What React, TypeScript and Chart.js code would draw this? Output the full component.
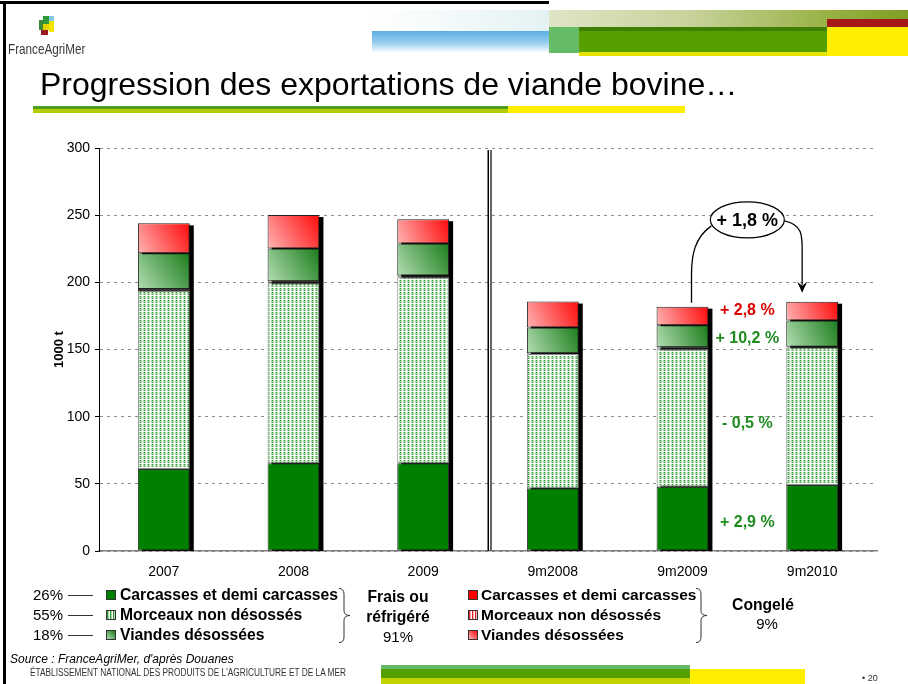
import React, { useEffect, useRef } from "react";
import { Chart, registerables } from "chart.js";

Chart.register(...registerables);

const FONT = '"Liberation Sans", Arial, Helvetica, sans-serif';

// ---------------- data ----------------
const categories = ["2007", "2008", "2009", "9m2008", "9m2009", "9m2010"];
const carcassesFrais = [61, 65.3, 65.3, 46.7, 47.9, 49.1];
const morceauxFrais = [132.6, 134, 138.5, 100, 102.3, 102.3];
const carcassesCongele = [0.6, 0.6, 0.5, 0.3, 0.6, 0.3];
const morceauxCongele = [0.9, 0.9, 0.7, 0.3, 0.9, 0.3];
const viandesFrais = [26.5, 24.3, 24, 19, 16.3, 19.6];
const viandesCongele = [22.3, 25, 18, 19.4, 13.9, 14];
const yMin = 0;
const yMax = 300;
const yStep = 50;
const yTitle = "1000 t";

const evolutionLabels = ["+ 2,8 %", "+ 10,2 %", "- 0,5 %", "+ 2,9 %"];
const evolutionColors = ["#dd0000", "#1e8c1e", "#1e8c1e", "#1e8c1e"];
const evolutionLevels = [179, 158, 94.5, 21.5];
const totalEvolution = "+ 1,8 %";
const totalEvolutionLevel = 246.5;

const legendFrais = ["Carcasses et demi carcasses", "Morceaux non désossés", "Viandes désossées"];
const legendFraisShares = ["26%", "55%", "18%"];
const legendCongele = ["Carcasses et demi carcasses", "Morceaux non désossés", "Viandes désossées"];

const seriesStack = [carcassesFrais, morceauxFrais, carcassesCongele, morceauxCongele, viandesFrais, viandesCongele];

function stackBase(ds: number, i: number) {
  let s = 0;
  for (let k = 0; k < ds; k++) s += seriesStack[k][i];
  return s;
}
function stackTotal(i: number) {
  return stackBase(seriesStack.length, i);
}

function makeTile(dark: string, light: string) {
  const c = document.createElement("canvas");
  c.width = 4;
  c.height = 4;
  const g = c.getContext("2d")!;
  g.fillStyle = "#ffffff";
  g.fillRect(0, 0, 4, 4);
  g.fillStyle = light;
  g.fillRect(0, 0, 2, 3);
  g.fillRect(3, 0, 1, 3);
  g.fillStyle = dark;
  g.fillRect(0, 0, 1, 1);
  g.fillRect(0, 2, 1, 1);
  return c;
}

function gradFor(ctx: any, ds: number, light: string, dark: string) {
  const chart = ctx.chart;
  const i = ctx.dataIndex;
  const xs = chart.scales && chart.scales.x;
  const ys = chart.scales && chart.scales.y;
  if (i === undefined || i === null || !xs || !ys || !chart.chartArea) return dark;
  const cx = xs.getPixelForValue(i);
  const w = (xs.width / categories.length) * 0.4;
  const b = stackBase(ds, i);
  const t = b + seriesStack[ds][i];
  const y0 = ys.getPixelForValue(b);
  const y1 = ys.getPixelForValue(t);
  const g = chart.ctx.createLinearGradient(cx - w / 2, y0, cx + w / 2, y1);
  g.addColorStop(0, light);
  g.addColorStop(1, dark);
  return g;
}

const shadowPlugin = {
  id: "barShadow",
  beforeDatasetsDraw(chart: any) {
    const ctx = chart.ctx;
    const ys = chart.scales.y;
    const xs = chart.scales.x;
    const w = (xs.width / categories.length) * 0.4;
    const y0 = ys.getPixelForValue(0);
    ctx.save();
    ctx.fillStyle = "#000";
    categories.forEach((_, i) => {
      const cx = xs.getPixelForValue(i);
      const top = ys.getPixelForValue(stackTotal(i));
      ctx.fillRect(cx - w / 2 + 4, top + 2, w, y0 - top - 2);
    });
    // double separator line
    const sx = xs.getPixelForValue(2.5);
    ctx.fillStyle = "#000";
    ctx.fillRect(sx - 0.5, chart.chartArea.top + 2, 1.5, y0 - chart.chartArea.top - 2);
    ctx.fillStyle = "#666";
    ctx.fillRect(sx + 2, chart.chartArea.top + 2, 2, y0 - chart.chartArea.top - 2);
    ctx.restore();
  },
};

const annotationPlugin = {
  id: "annotations",
  afterDatasetsDraw(chart: any) {
    const ctx = chart.ctx;
    const xs = chart.scales.x;
    const ys = chart.scales.y;
    const x4 = xs.getPixelForValue(4);
    const x5 = xs.getPixelForValue(5);
    const midX = (x4 + x5) / 2;
    ctx.save();
    ctx.textAlign = "center";
    ctx.textBaseline = "middle";
    ctx.font = `bold 16px ${FONT}`;
    evolutionLabels.forEach((t, k) => {
      ctx.fillStyle = evolutionColors[k];
      ctx.fillText(t, midX, ys.getPixelForValue(evolutionLevels[k]));
    });

    const ey = ys.getPixelForValue(totalEvolutionLevel);
    // left connector
    const lx = x4 + 9;
    const lEnd = ys.getPixelForValue(stackTotal(4)) - 4;
    ctx.strokeStyle = "#000";
    ctx.lineWidth = 1.3;
    ctx.beginPath();
    ctx.moveTo(midX - 36, ey + 6);
    ctx.bezierCurveTo(lx + 3, ey + 18, lx, ey + 35, lx, ey + 55);
    ctx.lineTo(lx, lEnd);
    ctx.stroke();
    // right arrow
    const rx = x5 - 10;
    const tip = ys.getPixelForValue(stackTotal(5)) - 9;
    ctx.beginPath();
    ctx.moveTo(midX + 37, ey + 1);
    ctx.bezierCurveTo(rx + 2, ey + 5, rx, ey + 18, rx, ey + 36);
    ctx.lineTo(rx, tip - 8);
    ctx.stroke();
    ctx.fillStyle = "#000";
    ctx.beginPath();
    ctx.moveTo(rx, tip);
    ctx.lineTo(rx - 5, tip - 11);
    ctx.lineTo(rx, tip - 7);
    ctx.lineTo(rx + 5, tip - 11);
    ctx.closePath();
    ctx.fill();

    // ellipse
    ctx.beginPath();
    ctx.ellipse(midX, ey, 37, 18, 0, 0, Math.PI * 2);
    ctx.fillStyle = "#fff";
    ctx.fill();
    ctx.lineWidth = 1.2;
    ctx.stroke();
    ctx.fillStyle = "#000";
    ctx.font = `bold 18px ${FONT}`;
    ctx.fillText(totalEvolution, midX, ey + 1);

    // y title
    ctx.translate(59, (chart.chartArea.top + chart.chartArea.bottom) / 2);
    ctx.rotate(-Math.PI / 2);
    ctx.font = `bold 13px ${FONT}`;
    ctx.fillText(yTitle, 0, 0);
    ctx.restore();
  },
};

function ChartCanvas() {
  const ref = useRef<HTMLCanvasElement>(null);
  useEffect(() => {
    const canvas = ref.current!;
    const tmp = document.createElement("canvas").getContext("2d")!;
    const greenPattern = tmp.createPattern(makeTile("#2e9e2e", "#a9d9a9"), "repeat");
    const pinkPattern = tmp.createPattern(makeTile("#e02020", "#ffb0b0"), "repeat");
    const common = {
      borderWidth: 1,
      borderSkipped: false,
      barPercentage: 0.4,
      categoryPercentage: 1,
      stack: "s",
    };
    const chart = new Chart(canvas, {
      type: "bar",
      data: {
        labels: categories,
        datasets: [
          { ...common, label: "Carcasses et demi carcasses (frais)", data: carcassesFrais, backgroundColor: "#008000", borderColor: "#333" },
          { ...common, label: "Morceaux non désossés (frais)", data: morceauxFrais, backgroundColor: greenPattern as any, borderColor: "#888" },
          { ...common, label: "Carcasses et demi carcasses (congelé)", data: carcassesCongele, backgroundColor: "#ff0000", borderColor: "#333", borderWidth: 0.5 },
          { ...common, label: "Morceaux non désossés (congelé)", data: morceauxCongele, backgroundColor: pinkPattern as any, borderColor: "#333", borderWidth: 0.5 },
          { ...common, label: "Viandes désossées (frais)", data: viandesFrais, backgroundColor: (c: any) => gradFor(c, 4, "#b2ddb2", "#1b7d1b"), borderColor: "#222" },
          { ...common, label: "Viandes désossées (congelé)", data: viandesCongele, backgroundColor: (c: any) => gradFor(c, 5, "#ffb4b4", "#ff0a0a"), borderColor: "#222" },
        ] as any,
      },
      options: {
        animation: false,
        responsive: false,
        maintainAspectRatio: false,
        layout: { padding: { top: 148, right: 31, bottom: 103, left: 0 } },
        plugins: { legend: { display: false }, tooltip: { enabled: false } },
        scales: {
          x: {
            stacked: true,
            grid: { display: false, drawTicks: false },
            border: { display: true, color: "#808080", width: 1.5 },
            ticks: { font: { size: 14, family: FONT }, color: "#000", padding: 13, maxRotation: 0 },
            afterFit: (s: any) => {
              s.height = 30;
            },
          },
          y: {
            stacked: true,
            min: yMin,
            max: yMax,
            ticks: { stepSize: yStep, font: { size: 14, family: FONT }, color: "#000", padding: 5 },
            grid: { color: "#8c8c8c", lineWidth: 1, tickColor: "#000", tickLength: 4, tickBorderDash: [] as any },
            border: { display: true, color: "#000", width: 1, dash: [3, 4] },
            afterFit: (s: any) => {
              s.width = 99;
            },
          },
        },
      } as any,
      plugins: [shadowPlugin, annotationPlugin],
    });
    return () => chart.destroy();
  }, []);
  return <canvas ref={ref} width={908} height={684} style={{ position: "absolute", left: 0, top: 0 }} />;
}

const box = (l: number, t: number, w: number, h: number, bg: string, extra: any = {}) => (
  <div style={{ position: "absolute", left: l, top: t, width: w, height: h, background: bg, ...extra }} />
);

function Brace({ x, y, h }: { x: number; y: number; h: number }) {
  const m = h / 2;
  return (
    <svg style={{ position: "absolute", left: x, top: y }} width={14} height={h} viewBox={`0 0 14 ${h}`}>
      <path
        d={`M1 0.5 Q6 0.5 6 6 L6 ${m - 5} Q6 ${m} 12 ${m} Q6 ${m} 6 ${m + 5} L6 ${h - 6} Q6 ${h - 0.5} 1 ${h - 0.5}`}
        fill="none"
        stroke="#333"
        strokeWidth={1}
      />
    </svg>
  );
}

const markerStyles = {
  frais: [
    { background: "#008000" },
    { background: "repeating-linear-gradient(90deg, #2e9e2e 0 1px, #a9d9a9 1px 2px, #ffffff 2px 3px)" },
    { background: "linear-gradient(45deg, #b2ddb2, #1b7d1b)" },
  ],
  congele: [
    { background: "#ff0000" },
    { background: "repeating-linear-gradient(90deg, #e02020 0 1px, #ffb0b0 1px 2px, #ffffff 2px 3px)" },
    { background: "linear-gradient(45deg, #ffb4b4, #ff0a0a)" },
  ],
};

export default function App() {
  const rows = [595, 615, 635];
  const txt = (l: number, cy: number, s: string, extra: any = {}) => (
    <div
      style={{
        position: "absolute",
        left: l,
        top: cy - 10,
        height: 20,
        lineHeight: "20px",
        whiteSpace: "nowrap",
        color: "#000",
        ...extra,
      }}
    >
      {s}
    </div>
  );
  const ctr = (cx: number, cy: number, s: string, extra: any = {}) => (
    <div
      style={{
        position: "absolute",
        left: cx - 60,
        width: 120,
        textAlign: "center",
        top: cy - 10,
        height: 20,
        lineHeight: "20px",
        whiteSpace: "nowrap",
        color: "#000",
        ...extra,
      }}
    >
      {s}
    </div>
  );
  return (
    <div
      style={{
        position: "fixed",
        left: 0,
        top: 0,
        width: 908,
        height: 684,
        background: "#fff",
        overflow: "hidden",
        fontFamily: FONT,
      }}
    >
      <ChartCanvas />
      {/* frame */}
      {box(0, 1, 549, 3, "#000")}
      {box(3, 1, 3, 684, "#000")}
      {/* logo */}
      {box(43, 16, 6, 8, "#2f9a3a")}
      {box(49, 16, 5, 5, "#7fc8e8")}
      {box(40, 24, 9, 6, "#e6d400")}
      {box(49, 21, 5, 11, "#f2e600")}
      {box(41, 30, 7, 5, "#9b1c1c")}
      {box(39, 20, 4, 10, "#3a8a3a")}
      <div
        style={{
          position: "absolute",
          left: 8,
          top: 41,
          fontSize: 15,
          lineHeight: "15px",
          color: "#3a3a3a",
          whiteSpace: "nowrap",
          transform: "scaleX(0.78)",
          transformOrigin: "left top",
        }}
      >
        FranceAgriMer
      </div>
      {/* header decorations */}
      {box(372, 10, 177, 21, "linear-gradient(to right, #ffffff, #e4f2f4)")}
      {box(372, 31, 177, 22, "linear-gradient(to bottom, #5aaee2, #9ccff0 55%, #ffffff)")}
      {box(549, 10, 359, 17, "linear-gradient(to right, #e0e5c6, #c7d29a 40%, #95b040 80%, #7f9f25)")}
      {box(827, 19, 81, 8, "#a41818")}
      {box(549, 27, 30, 26, "#66bb66")}
      {box(579, 27, 248, 26, "#55a000")}
      {box(579, 27, 248, 4, "#3e7e00")}
      {box(579, 52, 248, 4, "#e8e200")}
      {box(827, 27, 81, 29, "#ffee00")}
      {/* title */}
      <div
        style={{
          position: "absolute",
          left: 40,
          top: 68,
          fontSize: 32,
          lineHeight: "32px",
          color: "#000",
          whiteSpace: "nowrap",
        }}
      >
        Progression des exportations de viande bovine…
      </div>
      {box(33, 106, 475, 3, "#4f9e1e")}
      {box(33, 109, 475, 4, "#b4cc00")}
      {box(508, 106, 177, 7, "#ffee00")}

      {/* legend: frais */}
      {rows.map((y, k) => (
        <React.Fragment key={"f" + k}>
          {txt(33, y, legendFraisShares[k], { fontSize: 15 })}
          {box(68, y - 0.5, 25, 1.5, "#333")}
          {box(106, y - 5, 10, 10, "", { ...markerStyles.frais[k], border: "1px solid #333", boxSizing: "border-box" })}
          {txt(120, y, legendFrais[k], { fontSize: 15.7, fontWeight: "bold" })}
        </React.Fragment>
      ))}
      <Brace x={338} y={588} h={55} />
      {ctr(398, 597, "Frais ou", { fontSize: 15.7, fontWeight: "bold" })}
      {ctr(398, 617, "réfrigéré", { fontSize: 15.7, fontWeight: "bold" })}
      {ctr(398, 637, "91%", { fontSize: 15 })}

      {/* legend: congelé */}
      {rows.map((y, k) => (
        <React.Fragment key={"c" + k}>
          {box(468, y - 5, 10, 10, "", { ...markerStyles.congele[k], border: "1px solid #333", boxSizing: "border-box" })}
          {txt(481, y, legendCongele[k], { fontSize: 15.5, fontWeight: "bold" })}
        </React.Fragment>
      ))}
      <Brace x={695} y={588} h={55} />
      {ctr(763, 605, "Congelé", { fontSize: 15.7, fontWeight: "bold" })}
      {ctr(767, 624, "9%", { fontSize: 15 })}

      {/* footer */}
      {txt(10, 659, "Source : FranceAgriMer, d'après Douanes", { fontSize: 12, fontStyle: "italic" })}
      <div
        style={{
          position: "absolute",
          left: 30,
          top: 667,
          fontSize: 10,
          lineHeight: "12px",
          color: "#333",
          whiteSpace: "nowrap",
          transform: "scaleX(0.83)",
          transformOrigin: "left top",
        }}
      >
        ÉTABLISSEMENT NATIONAL DES PRODUITS DE L'AGRICULTURE ET DE LA MER
      </div>
      {box(381, 665, 309, 4, "#66bb66")}
      {box(381, 669, 309, 9, "#55a000")}
      {box(381, 678, 309, 6, "#c2d400")}
      {box(690, 669, 115, 15, "#ffee00")}
      <div style={{ position: "absolute", left: 862, top: 672, fontSize: 9, lineHeight: "12px", color: "#333" }}>• 20</div>
    </div>
  );
}
